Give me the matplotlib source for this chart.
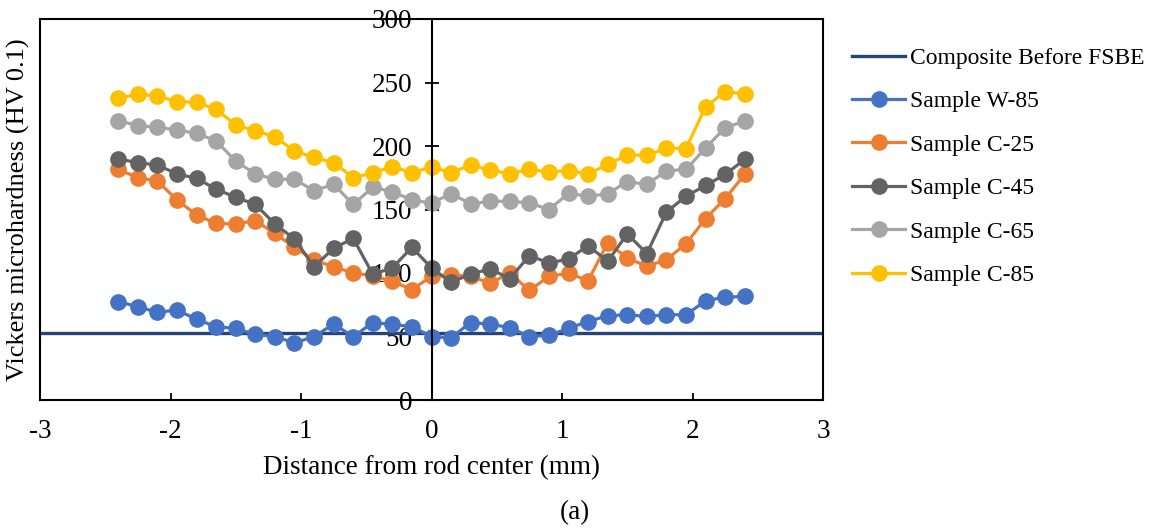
import matplotlib.pyplot as plt

plt.rcParams['font.family'] = ['Liberation Serif', 'DejaVu Serif']
plt.rcParams['axes.unicode_minus'] = False

# distance from rod center (mm)
x = [-2.4, -2.25, -2.1, -1.95, -1.8, -1.65, -1.5, -1.35, -1.2, -1.05, -0.9,
     -0.75, -0.6, -0.45, -0.3, -0.15, 0.0, 0.15, 0.3, 0.45, 0.6, 0.75, 0.9,
     1.05, 1.2, 1.35, 1.5, 1.65, 1.8, 1.95, 2.1, 2.25, 2.4]

composite_hv = 52.5

w85 = [77.4, 73.5, 69, 70.9, 63.5, 57.7, 56.4, 51.7, 49.9, 45, 49.9,
       59.8, 49.9, 60.9, 59.6, 57.7, 50, 49, 61, 59.7, 57, 50, 50.8,
       56.5, 61.8, 66.4, 67.1, 65.8, 67.1, 67.1, 78.1, 81, 81.5]
c25 = [181.6, 175, 172.4, 157.5, 145.7, 139, 138.6, 141.2, 131.2, 120.2, 110.2,
       105, 100, 97.9, 93.4, 87, 97.3, 98.6, 97.3, 92, 99.9, 86.3, 97.3,
       99.9, 93.9, 123.6, 111.8, 105.3, 110.5, 123, 142.8, 158.6, 177.6]
c45 = [189.8, 186.9, 185, 178, 174.5, 166, 159.6, 154, 138.6, 126.8, 105,
       119.4, 127.3, 99, 104, 120.2, 104, 92.6, 99.2, 103.2, 95.5, 113.7, 107.9,
       111, 121.5, 109.2, 130.8, 115.3, 147.9, 160.5, 168.9, 177.6, 189.4]
c65 = [220, 216, 214.7, 212.6, 210, 204, 188, 178, 173.8, 173.8, 164.8,
       169.8, 154, 167.5, 164, 157.5, 155, 162.5, 154.4, 156.5, 156.5, 155.2, 150,
       162.6, 160.5, 162.3, 172, 169.7, 180.5, 181.5, 198.4, 214.4, 219.6]
c85 = [237.5, 240.7, 239.4, 235, 234.4, 228.9, 216.5, 212, 207.3, 196, 191,
       187, 175, 179, 183.7, 179, 183.5, 179, 185, 181, 178.2, 181.5, 179.6,
       180.7, 178, 185.5, 193, 192.6, 198.4, 198, 230.7, 242.8, 241]

samples = [("Sample W-85", w85, "#4472C4"),
           ("Sample C-25", c25, "#ED7D31"),
           ("Sample C-45", c45, "#636363"),
           ("Sample C-65", c65, "#A5A5A5"),
           ("Sample C-85", c85, "#FFC000")]

fs = 19.5

fig = plt.figure(figsize=(11.5, 5.3), dpi=100)
ax = fig.add_axes([40 / 1150, 1 - 400 / 530, 783 / 1150, 381 / 530])

ax.axhline(composite_hv, color="#264478", lw=2.4, label="Composite Before FSBE")
for name, vals, col in samples:
    ax.plot(x, vals, color=col, lw=2.3, marker="o", ms=11, label=name)

ax.set_xlim(-3, 3)
ax.set_ylim(0, 300)
ax.set_xticks([-3, -2, -1, 0, 1, 2, 3])
ax.set_yticks([0, 50, 100, 150, 200, 250, 300])

# y axis sits at x = 0, the box stays round the plot
ax.spines['left'].set_position(('data', 0))
ax.axvline(-3, color="black", lw=1.5, clip_on=False)
for s in ax.spines.values():
    s.set_linewidth(1.5)
ax.tick_params(axis="y", direction="inout", length=10, width=1.3, pad=9, labelsize=fs)
ax.tick_params(axis="x", direction="in", length=5, width=1.3, pad=14, labelsize=fs)

ax.set_xlabel("Distance from rod center (mm)", fontsize=fs, labelpad=8)
fig.text(18 / 1150, 1 - 210 / 530, "Vickers microhardness (HV 0.1)",
         rotation=90, ha="center", va="center", fontsize=19)
fig.text(0.5, 1 - 513 / 530, "(a)", ha="center", va="center", fontsize=fs)

ax.legend(loc="upper left", bbox_to_anchor=(831 / 1150, 1 - 26 / 530),
          bbox_transform=fig.transFigure, frameon=False, fontsize=17,
          handlelength=2.25, labelspacing=0.93, handletextpad=0.2)

fig.savefig("out.png", dpi=100)
